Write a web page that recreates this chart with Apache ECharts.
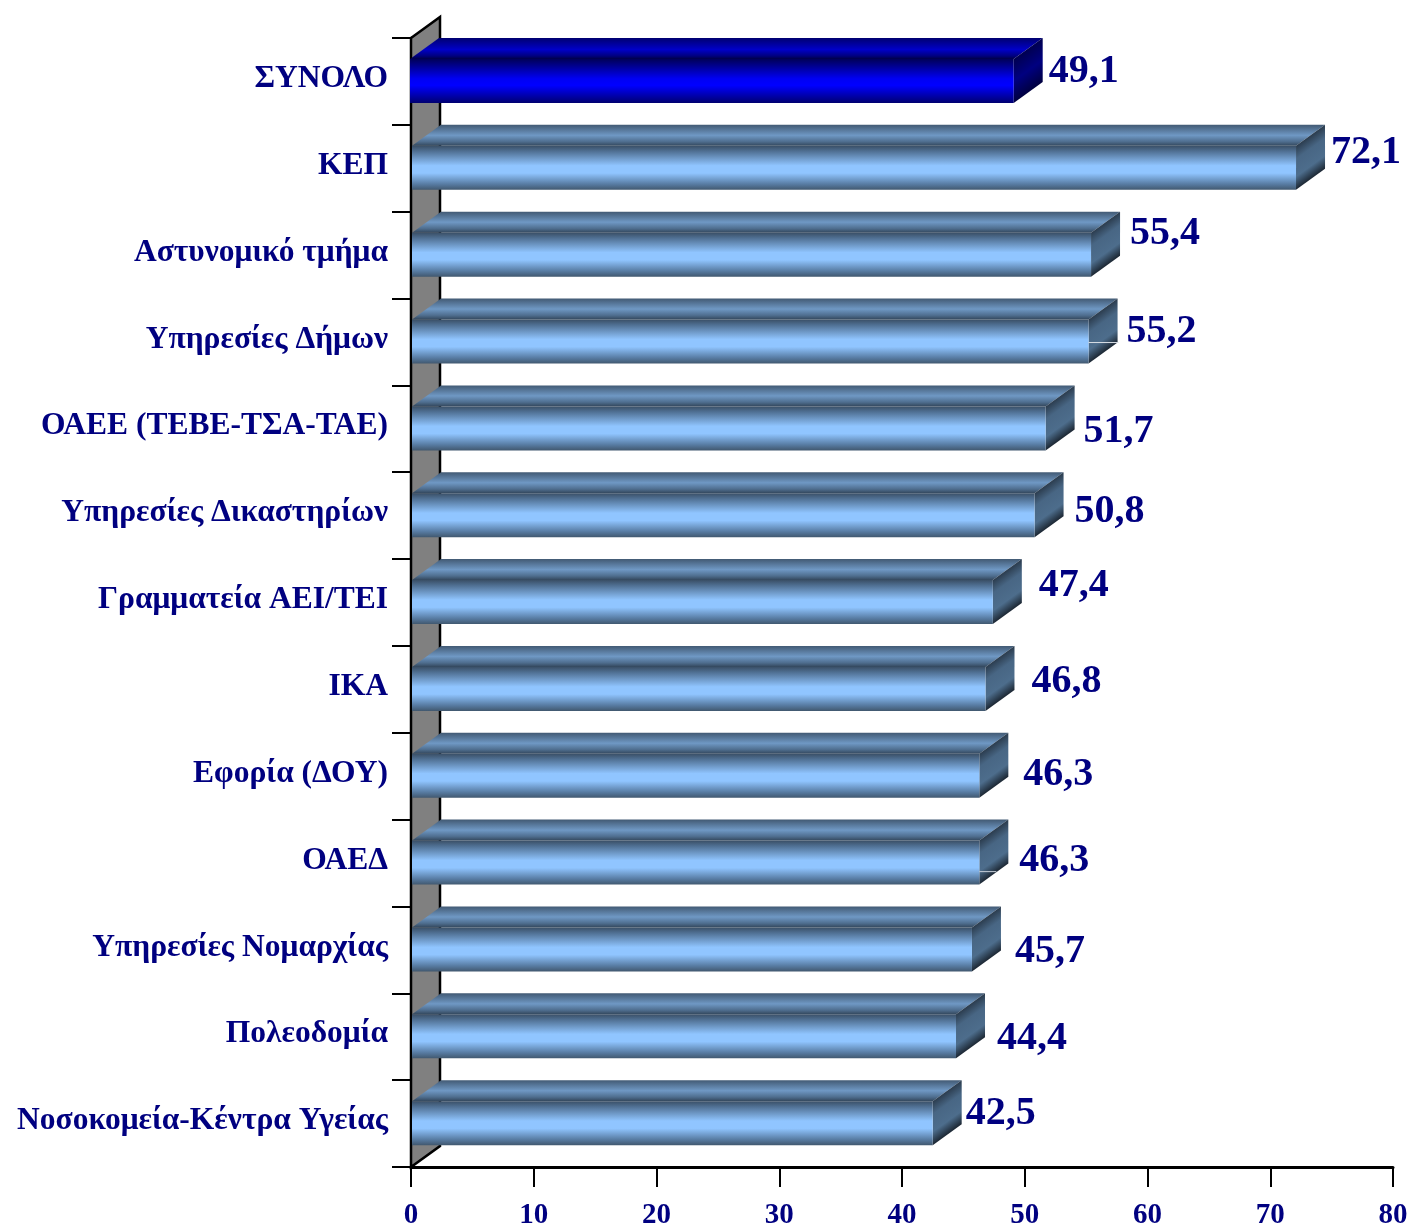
<!DOCTYPE html>
<html><head><meta charset="utf-8">
<style>html,body{margin:0;padding:0;background:#fff}#c{width:1409px;height:1226px}</style>
<script src="https://cdn.jsdelivr.net/npm/echarts@6/dist/echarts.min.js"></script>
</head><body><div id="c"></div>
<script>
const categories = ['ΣΥΝΟΛΟ','ΚΕΠ','Αστυνομικό τμήμα','Υπηρεσίες Δήμων','ΟΑΕΕ (ΤΕΒΕ-ΤΣΑ-ΤΑΕ)','Υπηρεσίες Δικαστηρίων','Γραμματεία ΑΕΙ/ΤΕΙ','ΙΚΑ','Εφορία (ΔΟΥ)','ΟΑΕΔ','Υπηρεσίες Νομαρχίας','Πολεοδομία','Νοσοκομεία-Κέντρα Υγείας'];
const values = [49.1,72.1,55.4,55.2,51.7,50.8,47.4,46.8,46.3,46.3,45.7,44.4,42.5];
const xTicks = [0,10,20,30,40,50,60,70,80];

// hand placed label nudges from the default spot (dx, dy), like the original's dragged labels
const labelNudgeX = [6,6,10,9,9,11,17,17,15,11,14,12,4];
const labelNudgeY = [-10,-16,-21,-10,3,-4,-17,-8,-2,-2,2,2,-10];
// thin light seam on the side face of two bars: index -> [offset below front top, length, colour]
const sideSeams = {3:[23,30,'#d8dee6'], 9:[31,17,'#c4ccd6']};

const NAVY = '#000080', DX = 29, DY = 21, FRONT = 44;
const FONT = '"Liberation Serif", serif';
const stopsOf = (stops) => stops.map(s=>({offset:s[0],color:s[1]}));
const grad = (stops) => ({type:'linear',x:0,y:0,x2:0,y2:1,colorStops:stopsOf(stops)});
// side face gradient runs across the slant, so both slanted edges stay dark
function sideGrad(xv, ft, stops){
  const len = Math.hypot(DY, DX), n = [DY/len, DX/len], d = FRONT*n[1];
  return {type:'linear',global:true,x:xv,y:ft,x2:xv+n[0]*d,y2:ft+n[1]*d,colorStops:stopsOf(stops)};
}
const palettes = {
  normal: {
    front: grad([[0,'#3a4f66'],[0.12,'#4f6f92'],[0.45,'#90c5ff'],[0.62,'#90c5ff'],[0.87,'#587ca3'],[1,'#41586f']]),
    top: grad([[0,'#425a74'],[0.5,'#6f98c4'],[0.8,'#4f6e8f'],[1,'#33475c']]),
    side: [[0,'#2b3c4e'],[0.3,'#486684'],[0.7,'#4d6d8c'],[1,'#1c2733']]
  },
  total: {
    front: grad([[0,'#000058'],[0.45,'#0000f4'],[0.6,'#0000ff'],[1,'#000070']]),
    top: grad([[0,'#000070'],[0.55,'#0000c8'],[0.85,'#000080'],[1,'#000048']]),
    side: [[0,'#000050'],[0.5,'#000080'],[1,'#000040']]
  }
};

const chart = echarts.init(document.getElementById('c'), null, {renderer:'canvas'});
chart.setOption({
  animation:false,
  backgroundColor:'#fff',
  grid:{left:411,right:16,top:38,bottom:59,containLabel:false,outerBoundsMode:'none'},
  xAxis:{type:'value',min:0,max:80,interval:10,position:'bottom',
    axisLine:{show:true,lineStyle:{color:'#000',width:3}},
    axisTick:{show:true,length:20,lineStyle:{color:'#000',width:2}},
    splitLine:{show:false},
    axisLabel:{color:NAVY,fontFamily:FONT,fontWeight:'bold',fontSize:29,margin:34,
      formatter:v=>xTicks.includes(v)?String(v):''}},
  yAxis:{type:'category',data:categories,inverse:true,
    axisLine:{show:true,lineStyle:{color:'#000',width:3}},
    axisTick:{show:true,length:19,alignWithLabel:false,lineStyle:{color:'#000',width:2}},
    axisLabel:{color:NAVY,fontFamily:FONT,fontWeight:'bold',fontSize:31.5,margin:23,verticalAlign:'bottom',lineHeight:5,interval:0}},
  series:[
    {type:'custom',coordinateSystem:'cartesian2d',silent:true,z:1,clip:false,
     data:[[0,categories[0]]],
     encode:{x:0,y:1},
     renderItem(p,api){
       const cs=p.coordSys, l=cs.x, t=cs.y, b=cs.y+cs.height;
       const line={stroke:'#000',lineWidth:2.5,fill:'#808080'};
       return {type:'polygon',shape:{points:[[l,t],[l+DX,t-DY],[l+DX,b-DY],[l,b]]},style:line};
     }},
    {type:'custom',coordinateSystem:'cartesian2d',silent:true,z:3,clip:false,
     data:values.map((v,i)=>[v,categories[i],i]),
     encode:{x:0,y:1},
     renderItem(p,api){
       const i=api.value(2), v=values[i];
       const c=api.coord([v,categories[i]]);
       const x0=p.coordSys.x+(i===0?-1:1), band=api.size([0,1])[1];
       const top=c[1]-band/2, ft=top+DY, fb=ft+FRONT, xv=c[0];
       const pal=i===0?palettes.total:palettes.normal;
       const kids=[
         {type:'polygon',shape:{points:[[x0,ft],[x0+DX,top],[xv+DX,top],[xv,ft]]},style:{fill:pal.top}},
         {type:'polygon',shape:{points:[[xv,ft],[xv+DX,top],[xv+DX,top+FRONT],[xv,fb]]},style:{fill:sideGrad(xv,ft,pal.side)}},
         {type:'rect',shape:{x:x0,y:ft,width:xv-x0,height:FRONT},style:{fill:pal.front}},
         {type:'text',x:xv+DX+labelNudgeX[i],y:c[1]+labelNudgeY[i],
           style:{text:v.toFixed(1).replace('.',','),fill:NAVY,font:'bold 40px '+FONT,
             textAlign:'left',textVerticalAlign:'middle'}}
       ];
       const seam=sideSeams[i];
       if(seam) kids.push({type:'line',shape:{x1:xv,y1:ft+seam[0],x2:xv+seam[1],y2:ft+seam[0]},style:{stroke:seam[2],lineWidth:1}});
       return {type:'group',children:kids};
     }}
  ]
});
</script></body></html>
